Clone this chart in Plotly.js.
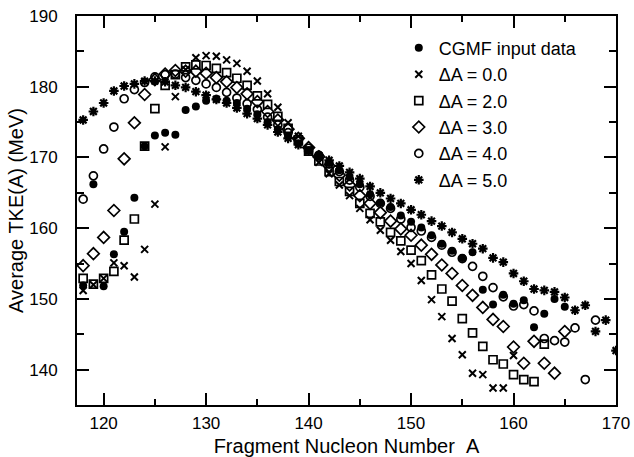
<!DOCTYPE html>
<html><head><meta charset="utf-8">
<script src="https://cdn.plot.ly/plotly-3.0.1.min.js"></script>
<style>html,body{margin:0;padding:0;background:#fff}#chart{width:634px;height:457px}</style>
</head><body><div id="chart"></div>
<script>
const A_cgmf = [118,119,120,121,122,123,124,125,126,127,128,129,130,131,132,133,134,135,136,137,138,139,140,141,142,143,144,145,146,147,148,149,150,151,152,153,154,155,156,157,158,159,160,161,162,163,164,165];
const tke_cgmf = [151.9,166.2,151.8,156.3,159.5,164.3,171.6,173.1,173.5,173.2,176.7,177.2,178.0,178.3,178.0,177.7,176.9,176.1,175.0,174.0,173.0,172.0,171.0,170.1,169.2,168.2,167.2,166.2,164.8,163.6,163.0,161.8,160.9,160.1,159.0,157.8,156.8,155.8,156.6,151.3,149.2,150.6,149.3,149.8,146.0,147.9,150.0,148.9];

const A_d0 = [118,119,120,121,122,123,124,125,126,127,128,129,130,131,132,133,134,135,136,137,138,139,140,141,142,143,144,145,146,147,148,149,150,151,152,153,154,155,156,157,158,159,160];
const tke_d0 = [151.2,152.0,152.9,155.1,154.7,153.1,157.0,163.4,171.5,178.6,182.4,184.1,184.4,184.3,183.8,183.3,182.2,180.8,179.0,177.1,174.9,173.0,171.1,169.3,167.7,166.1,164.6,162.8,161.2,159.7,158.3,156.7,155.0,152.6,149.9,147.5,144.4,142.1,139.5,139.3,137.4,137.4,142.0];

const A_d2 = [118,119,120,121,122,123,124,125,126,127,128,129,130,131,132,133,134,135,136,137,138,139,140,141,142,143,144,145,146,147,148,149,150,151,152,153,154,155,156,157,158,159,160,161,162,163];
const tke_d2 = [152.9,152.1,152.9,153.9,158.3,161.3,171.6,176.9,180.2,181.7,182.8,183.1,183.0,182.6,182.0,181.2,180.2,178.7,177.5,175.8,174.1,172.5,170.9,169.5,168.0,166.6,165.2,163.5,162.1,160.9,159.4,158.2,156.9,155.4,153.4,151.4,149.7,147.2,145.2,143.3,141.4,140.8,139.3,138.6,138.3,143.6];

const A_d3 = [118,119,120,121,122,123,124,125,126,127,128,129,130,131,132,133,134,135,136,137,138,139,140,141,142,143,144,145,146,147,148,149,150,151,152,153,154,155,156,157,158,159,160,161,162,163,164,165];
const tke_d3 = [154.7,156.4,158.7,162.5,169.8,174.9,178.9,181.0,181.8,182.3,182.2,182.2,181.9,181.3,180.7,179.9,179.0,177.9,176.5,175.3,174.0,172.7,171.4,170.1,168.8,167.5,166.1,164.6,163.5,162.2,161.0,159.9,159.0,157.6,156.3,154.8,153.6,151.9,150.5,148.8,147.1,146.1,143.2,140.9,144.0,140.9,139.5,145.4];

const A_d4 = [118,119,120,121,122,123,124,125,126,127,128,129,130,131,132,133,134,135,136,137,138,139,140,141,142,143,144,145,146,147,148,149,150,151,152,153,154,155,156,157,158,159,160,161,162,163,164,165,166,167,168];
const tke_d4 = [164.1,167.4,171.2,174.3,178.3,179.6,180.6,181.4,181.7,181.8,181.3,180.9,180.4,179.9,179.2,178.4,177.6,176.8,175.7,174.6,173.5,172.4,171.3,170.3,169.1,168.0,166.8,165.8,164.5,163.5,162.8,161.3,160.1,159.6,158.7,157.6,156.6,155.7,154.6,153.2,151.6,150.3,149.0,149.2,148.3,144.4,144.1,143.9,145.9,138.6,147.0];

const A_d5 = [118,119,120,121,122,123,124,125,126,127,128,129,130,131,132,133,134,135,136,137,138,139,140,141,142,143,144,145,146,147,148,149,150,151,152,153,154,155,156,157,158,159,160,161,162,163,164,165,166,167,168,169,170];
const tke_d5 = [175.3,176.5,177.7,179.4,180.1,180.4,180.8,180.8,180.7,180.2,179.9,179.3,178.8,178.2,177.7,177.0,176.2,175.5,174.6,173.6,172.7,171.8,170.9,170.3,169.6,168.8,167.9,167.0,165.9,165.0,164.2,163.5,162.6,161.9,161.0,160.3,159.4,158.5,157.8,157.1,155.8,155.2,153.6,152.5,151.4,151.2,151.0,150.2,148.4,149.1,145.4,147.0,142.7];

const seriesNames = ['CGMF input data','\u0394A = 0.0','\u0394A = 2.0','\u0394A = 3.0','\u0394A = 4.0','\u0394A = 5.0'];
const xTickVals = [120,130,140,150,160,170];
const yTickVals = [140,150,160,170,180,190];

const FONT = 'Liberation Sans, Arial, Helvetica, sans-serif';
function tr(x, y, i, marker) {
  return {x: x, y: y, type: 'scatter', mode: 'markers', name: seriesNames[i],
          legendgroup: 'g' + i, marker: marker, hoverinfo: 'skip'};
}
const data = [
  tr(A_cgmf, tke_cgmf, 0, {symbol: 'circle', size: 8, color: '#000', line: {width: 0}}),
  tr(A_d0, tke_d0, 1, {symbol: 'x-thin-open', size: 7, color: '#000', line: {width: 2, color: '#000'}}),
  tr(A_d2, tke_d2, 2, {symbol: 'square-open', size: 8, color: '#000', line: {width: 1.7, color: '#000'}}),
  tr(A_d3, tke_d3, 3, {symbol: 'diamond-open', size: 9, color: '#000', line: {width: 1.7, color: '#000'}}),
  tr(A_d4, tke_d4, 4, {symbol: 'circle-open', size: 8, color: '#000', line: {width: 1.7, color: '#000'}}),
  tr(A_d5, tke_d5, 5, {symbol: 'asterisk-open', size: 8, color: '#000', line: {width: 2.2, color: '#000'}})
];

const axisCommon = {
  showline: true, linecolor: '#000', linewidth: 2, mirror: 'ticks',
  ticks: 'inside', ticklen: 12, tickwidth: 2, tickcolor: '#000',
  showgrid: false, zeroline: false, automargin: false,
  tickfont: {family: FONT, size: 17, color: '#000'}
};
const layout = {
  width: 634, height: 457,
  margin: {l: 77, r: 18, t: 16, b: 52},
  paper_bgcolor: '#fff', plot_bgcolor: '#fff',
  showlegend: true,
  legend: {x: 0.597, y: 0.965, xanchor: 'left', yanchor: 'top', bgcolor: 'rgba(0,0,0,0)',
           font: {family: FONT, size: 18, color: '#000'}, tracegroupgap: 0, itemwidth: 30},
  xaxis: Object.assign({}, axisCommon, {
    range: [117.4, 170], tickvals: xTickVals, ticklabelstandoff: 2,
    minor: {dtick: 5, ticks: 'inside', ticklen: 6, tickwidth: 2, tickcolor: '#000', showgrid: false},
    title: {text: 'Fragment Nucleon Number\u00a0\u00a0A', font: {family: FONT, size: 20, color: '#000'}, standoff: 10}
  }),
  yaxis: Object.assign({}, axisCommon, {
    range: [135, 190], tickvals: yTickVals, ticklabelstandoff: 14,
    minor: {dtick: 5, ticks: 'inside', ticklen: 7, tickwidth: 2, tickcolor: '#000', showgrid: false},
    title: {text: 'Average TKE(A) (MeV)', font: {family: FONT, size: 20, color: '#000'}, standoff: 0}
  })
};
Plotly.newPlot('chart', data, layout, {displayModeBar: false, staticPlot: true});
</script></body></html>
